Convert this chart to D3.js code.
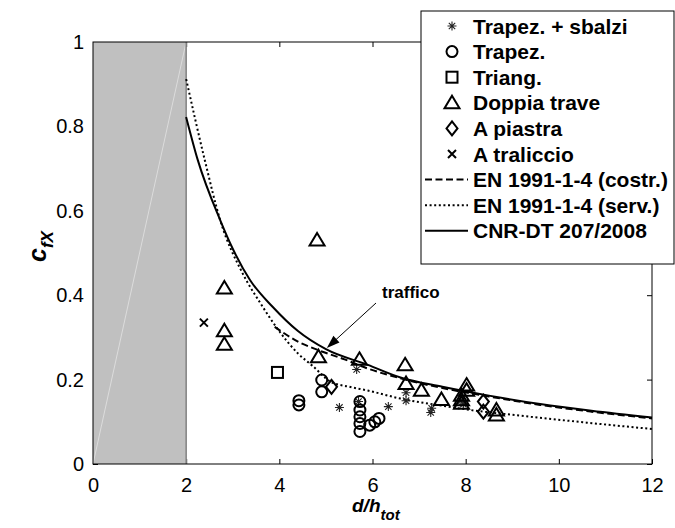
<!DOCTYPE html>
<html><head><meta charset="utf-8">
<script src="https://cdn.jsdelivr.net/npm/d3@7"></script>
<style>body{margin:0;background:#fff}svg{display:block}text{font-family:"Liberation Sans",Arial,sans-serif}</style>
</head><body>
<svg id="c" width="675" height="528"></svg>
<script>
// ---- data ----
const xTicks = [0, 2, 4, 6, 8, 10, 12];
const yTicks = [0, 0.2, 0.4, 0.6, 0.8, 1];
const yTickLabels = ["0", "0.2", "0.4", "0.6", "0.8", "1"];

const starX = [5.29, 5.66, 5.70, 6.34, 6.72, 6.72, 7.27, 7.25, 7.90, 7.95];
const starY = [0.134, 0.224, 0.148, 0.136, 0.169, 0.150, 0.132, 0.122, 0.150, 0.142];
const circX = [4.42, 4.42, 4.91, 4.91, 5.73, 5.73, 5.73, 5.73, 5.73, 5.94, 6.05, 6.14];
const circY = [0.150, 0.140, 0.199, 0.171, 0.148, 0.128, 0.112, 0.096, 0.077, 0.092, 0.100, 0.108];
const sqX = [3.96];
const sqY = [0.217];
const triX = [2.82, 2.82, 2.82, 4.84, 4.81, 5.72, 6.70, 6.72, 7.05, 7.48, 8.02, 8.02, 7.91, 7.91, 7.91, 8.66, 8.66];
const triY = [0.417, 0.316, 0.284, 0.254, 0.531, 0.248, 0.235, 0.191, 0.175, 0.153, 0.187, 0.175, 0.163, 0.152, 0.144, 0.128, 0.116];
const diaX = [5.12, 8.38, 8.38];
const diaY = [0.183, 0.148, 0.124];
const crossX = [2.38];
const crossY = [0.335];

const cnrX = [2, 2.25, 2.73, 3.0, 3.37, 3.86, 4.4, 5.0, 5.9, 6.6, 7.5, 8.5, 9.6, 10.7, 12];
const cnrY = [0.822, 0.72, 0.578, 0.51, 0.436, 0.372, 0.315, 0.272, 0.235, 0.205, 0.183, 0.162, 0.142, 0.126, 0.11];
const enCX = [3.9, 4.4, 4.83, 5.4, 5.88, 6.6, 7.5, 8.5, 9.6, 10.7, 12];
const enCY = [0.325, 0.29, 0.27, 0.248, 0.227, 0.203, 0.18, 0.16, 0.14, 0.124, 0.108];
const enSX = [2, 2.4, 2.73, 3.22, 3.6, 3.95, 4.4, 4.72, 5.1, 5.5, 5.9, 6.6, 7.5, 8.1, 9.4, 10.6, 12];
const enSY = [0.912, 0.72, 0.578, 0.45, 0.38, 0.322, 0.262, 0.232, 0.195, 0.183, 0.174, 0.155, 0.138, 0.128, 0.112, 0.098, 0.083];

const legendLabels = ["Trapez. + sbalzi", "Trapez.", "Triang.", "Doppia trave", "A piastra", "A traliccio",
  "EN 1991-1-4 (costr.)", "EN 1991-1-4 (serv.)", "CNR-DT 207/2008"];

// ---- layout ----
const L = 93, R = 652, T = 42, B = 464;
const svg = d3.select("#c");
const x = d3.scaleLinear().domain([0, 12]).range([L, R]);
const y = d3.scaleLinear().domain([0, 1]).range([B, T]);
const zip = (a, b) => a.map((v, i) => [v, b[i]]);

// axes ticks (inside)
const axB = d3.axisBottom(x).tickValues(xTicks).tickSize(-5).tickPadding(14).tickFormat(d3.format("d"));
const axT = d3.axisTop(x).tickValues(xTicks).tickSize(-5).tickFormat("");
const axL = d3.axisLeft(y).tickValues(yTicks).tickSize(-5).tickPadding(9).tickFormat((d, i) => yTickLabels[i]);
const axR = d3.axisRight(y).tickValues(yTicks).tickSize(-5).tickFormat("");
function styleAx(g) {
  g.select(".domain").remove();
  g.selectAll("line").attr("stroke", "#000");
  g.selectAll("text").attr("font-size", 20).attr("fill", "#000").attr("font-family", "Liberation Sans, Arial, sans-serif");
}
svg.append("g").attr("transform", `translate(0,${B})`).call(axB).call(styleAx);
svg.append("g").attr("transform", `translate(0,${T})`).call(axT).call(styleAx);
svg.append("g").attr("transform", `translate(${L},0)`).call(axL).call(styleAx);
svg.append("g").attr("transform", `translate(${R},0)`).call(axR).call(styleAx);

// gray zone
svg.append("rect").attr("x", x(0)).attr("y", y(1)).attr("width", x(2) - x(0)).attr("height", y(0) - y(1)).attr("fill", "#c0c0c0");
svg.append("line").attr("x1", x(0)).attr("y1", y(0)).attr("x2", x(2)).attr("y2", y(1)).attr("stroke", "#dcdcdc").attr("stroke-width", 1);
svg.append("line").attr("x1", x(2)).attr("y1", y(0)).attr("x2", x(2)).attr("y2", y(1)).attr("stroke", "#808080").attr("stroke-width", 1.5);

// frame
svg.append("rect").attr("x", L).attr("y", T).attr("width", R - L).attr("height", B - T).attr("fill", "none").attr("stroke", "#000").attr("stroke-width", 1);

// curves
const line = d3.line().x(d => x(d[0])).y(d => y(d[1])).curve(d3.curveMonotoneX);
const curveStyles = [
  { data: zip(enSX, enSY), dash: "2,2.6" },
  { data: zip(enCX, enCY), dash: "7,3.5" },
  { data: zip(cnrX, cnrY), dash: null }
];
curveStyles.forEach(c => {
  svg.append("path").attr("d", line(c.data)).attr("fill", "none").attr("stroke", "#000")
    .attr("stroke-width", 2).attr("stroke-dasharray", c.dash);
});

// markers
const mk = {
  star: (g) => g.append("path").attr("d", "M-4.5,0H4.5M0,-4.5V4.5M-3.2,-3.2L3.2,3.2M-3.2,3.2L3.2,-3.2")
    .attr("stroke", "#222").attr("stroke-width", 1.1).attr("fill", "none"),
  circ: (g) => g.append("circle").attr("r", 5.5).attr("fill", "none").attr("stroke", "#000").attr("stroke-width", 2),
  sq: (g) => g.append("rect").attr("x", -5.5).attr("y", -5.5).attr("width", 11).attr("height", 11)
    .attr("fill", "none").attr("stroke", "#000").attr("stroke-width", 2),
  tri: (g) => g.append("path").attr("d", "M0,-7L7.5,5.5H-7.5Z").attr("fill", "none").attr("stroke", "#000").attr("stroke-width", 2),
  dia: (g) => g.append("path").attr("d", "M0,-7L5.5,0L0,7L-5.5,0Z").attr("fill", "none").attr("stroke", "#000").attr("stroke-width", 2),
  cross: (g) => g.append("path").attr("d", "M-4,-4L4,4M-4,4L4,-4").attr("fill", "none").attr("stroke", "#000").attr("stroke-width", 2)
};
const sets = [
  ["star", starX, starY], ["circ", circX, circY], ["sq", sqX, sqY],
  ["tri", triX, triY], ["dia", diaX, diaY], ["cross", crossX, crossY]
];
sets.forEach(([k, xs, ys]) => {
  zip(xs, ys).forEach(p => {
    const g = svg.append("g").attr("transform", `translate(${x(p[0])},${y(p[1])})`);
    mk[k](g);
  });
});

// annotation "traffico"
const tipX = x(5.02), tipY = y(0.275);
const startX = 376, startY = 303;
const ang = Math.atan2(startY - tipY, startX - tipX);
svg.append("line").attr("x1", startX).attr("y1", startY).attr("x2", tipX + 8 * Math.cos(ang)).attr("y2", tipY + 8 * Math.sin(ang))
  .attr("stroke", "#000").attr("stroke-width", 1);
const ah = [[tipX, tipY],
  [tipX + 13 * Math.cos(ang) - 4.5 * Math.sin(ang), tipY + 13 * Math.sin(ang) + 4.5 * Math.cos(ang)],
  [tipX + 13 * Math.cos(ang) + 4.5 * Math.sin(ang), tipY + 13 * Math.sin(ang) - 4.5 * Math.cos(ang)]];
svg.append("path").attr("d", "M" + ah.join("L") + "Z").attr("fill", "#000");
svg.append("text").attr("x", 382).attr("y", 298).attr("font-size", 17).attr("font-weight", "bold").text("traffico");

// legend
const lg = svg.append("g");
const LX0 = 421, LY0 = 11, LX1 = 674, LY1 = 264;
lg.append("rect").attr("x", LX0).attr("y", LY0).attr("width", LX1 - LX0).attr("height", LY1 - LY0)
  .attr("fill", "#fff").attr("stroke", "#000").attr("stroke-width", 1);
const rowY = i => 26 + i * 25.6;
const mkKeys = ["star", "circ", "sq", "tri", "dia", "cross"];
mkKeys.forEach((k, i) => {
  const g = lg.append("g").attr("transform", `translate(452,${rowY(i)})`);
  mk[k](g);
});
[ "7,3.5", "2,2.6", null ].forEach((d, j) => {
  lg.append("line").attr("x1", 425).attr("x2", 468).attr("y1", rowY(6 + j)).attr("y2", rowY(6 + j))
    .attr("stroke", "#000").attr("stroke-width", 2).attr("stroke-dasharray", d);
});
legendLabels.forEach((t, i) => {
  lg.append("text").attr("x", 473).attr("y", rowY(i)).attr("dy", "0.36em").attr("font-size", 21)
    .attr("font-weight", "bold").text(t);
});

// axis labels
const xl = svg.append("text").attr("x", 352).attr("y", 512).attr("font-size", 19).attr("font-weight", "bold").attr("font-style", "italic");
xl.append("tspan").text("d/h");
xl.append("tspan").attr("font-size", 15).attr("dy", 8).text("tot");
const yl = svg.append("text").attr("transform", "translate(46,262) rotate(-90)").attr("font-size", 25).attr("font-weight", "bold").attr("font-style", "italic");
yl.append("tspan").text("c");
yl.append("tspan").attr("font-size", 17).attr("dy", 7).text("fX");
</script>
</body></html>
